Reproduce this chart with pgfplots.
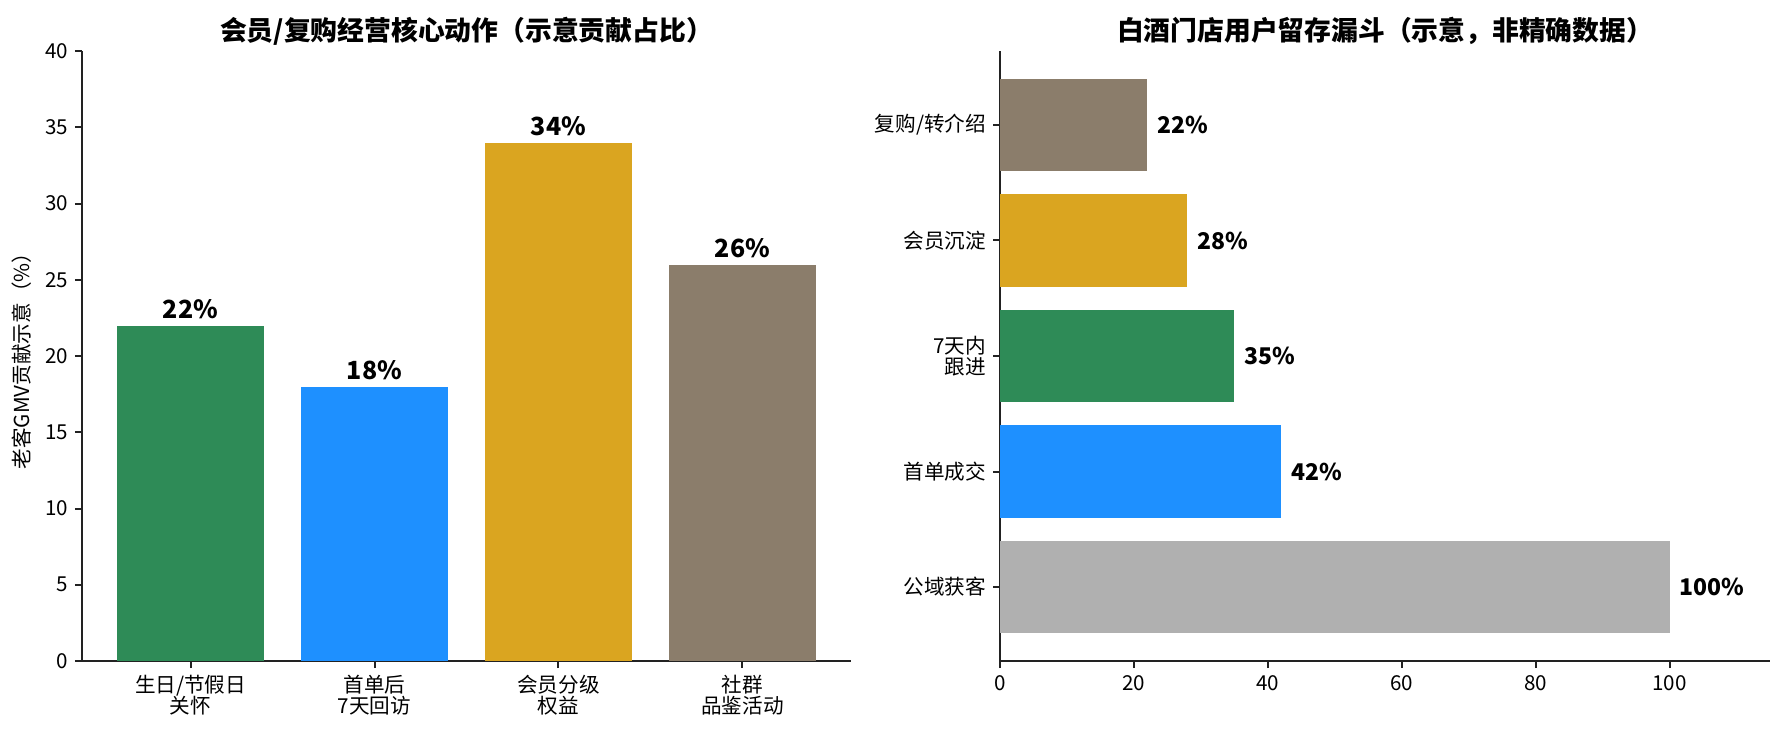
\documentclass[border=0pt]{standalone}
\usepackage{fontspec}
\setmainfont{Noto Sans CJK SC}
\usepackage{pgfplots}
\pgfplotsset{compat=1.18}
\definecolor{cgreen}{HTML}{2E8B57}
\definecolor{cblue}{HTML}{1E90FF}
\definecolor{cgold}{HTML}{DAA520}
\definecolor{cbrown}{HTML}{8B7D6B}
\definecolor{cgray}{HTML}{B0B0B0}
\definecolor{spine}{HTML}{222222}
\pgfplotsset{
  base/.style={
    scale only axis,
    anchor=south west,
    height=305pt,
    axis x line*=bottom, axis y line*=left,
    axis line style={spine, line width=1pt},
    tick style={spine, line width=1pt},
    tick align=outside,
    major tick length=3.5pt,
    ticklabel style={font=\fontsize{10.3}{11}\selectfont, text=black},
    /pgf/number format/assume math mode=true,
    title style={font=\fontsize{13.4}{15}\selectfont\bfseries, yshift=-6.5pt},
  },
}
\begin{document}
\begin{tikzpicture}
\path[use as bounding box] (0,0) rectangle (892.5pt,367.5pt);
% left: contribution by action
\begin{axis}[base,
  at={(41pt,37pt)}, width=384.5pt,
  title={会员/复购经营核心动作（示意贡献占比）},
  ybar, bar width=0.8, bar shift=0pt,
  xmin=-0.59, xmax=3.59, ymin=0, ymax=40,
  ytick={0,5,...,40},
  xtick={0,1,2,3},
  xticklabels={{生日/节假日\\关怀},{首单后\\7天回访},{会员分级\\权益},{社群\\品鉴活动}},
  xticklabel style={align=center, font=\fontsize{10.3}{10.5}\selectfont},
  ylabel={老客GMV贡献示意（\%）},
  ylabel style={font=\fontsize{10.3}{11}\selectfont, yshift=0pt},
  nodes near coords={\pgfmathprintnumber{\pgfplotspointmeta}\%},
  every node near coord/.append style={font=\fontsize{12.5}{15}\selectfont\bfseries, text=black, anchor=south, yshift=0pt},
]
\addplot[fill=cgreen, draw=none] coordinates {(0,22)};
\addplot[fill=cblue, draw=none] coordinates {(1,18)};
\addplot[fill=cgold, draw=none] coordinates {(2,34)};
\addplot[fill=cbrown, draw=none] coordinates {(3,26)};
\end{axis}
% right: retention funnel
\begin{axis}[base,
  at={(500pt,37pt)}, width=385pt,
  title={白酒门店用户留存漏斗（示意，非精确数据）},
  xbar, bar width=0.8, bar shift=0pt,
  xmin=0, xmax=115, ymin=-0.64, ymax=4.64,
  xtick={0,20,...,100},
  ytick={0,1,2,3,4},
  yticklabels={公域获客,首单成交,{7天内\\跟进},会员沉淀,复购/转介绍},
  yticklabel style={align=right, font=\fontsize{10.3}{10.5}\selectfont},
  nodes near coords={\pgfmathprintnumber{\pgfplotspointmeta}\%},
  every node near coord/.append style={font=\fontsize{11.5}{13}\selectfont\bfseries, text=black, anchor=west, xshift=1.5pt},
]
\addplot[fill=cgray, draw=none] coordinates {(100,0)};
\addplot[fill=cblue, draw=none] coordinates {(42,1)};
\addplot[fill=cgreen, draw=none] coordinates {(35,2)};
\addplot[fill=cgold, draw=none] coordinates {(28,3)};
\addplot[fill=cbrown, draw=none] coordinates {(22,4)};
\end{axis}
\end{tikzpicture}
\end{document}
